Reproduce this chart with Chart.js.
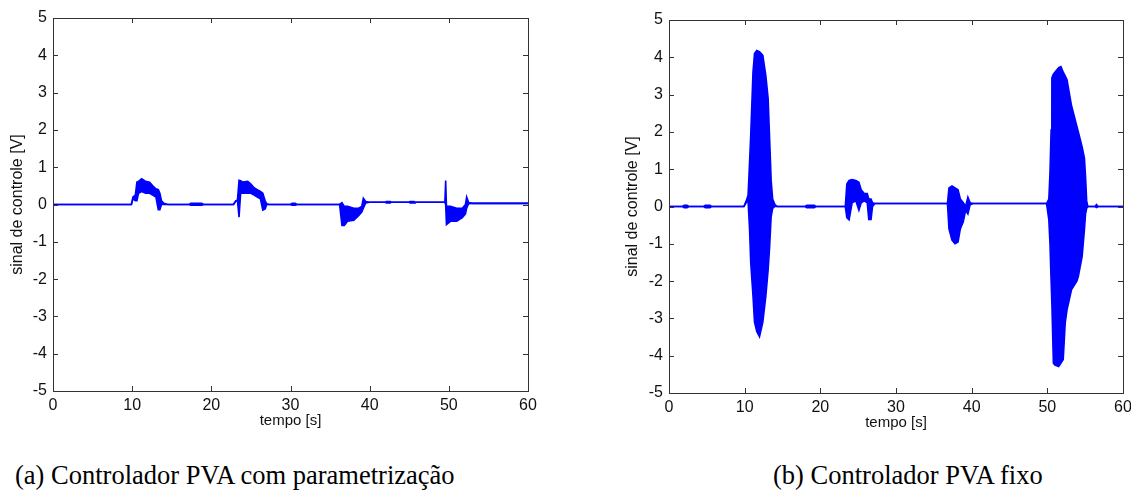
<!DOCTYPE html>
<html>
<head>
<meta charset="utf-8">
<script src="https://cdn.jsdelivr.net/npm/chart.js@4/dist/chart.umd.min.js"></script>
<style>
  html, body { margin: 0; padding: 0; background: #fff; width: 1131px; height: 491px; overflow: hidden; }
  .plot { position: absolute; top: 0; }
  .caption { position: absolute; top: 460px; font-family: "Liberation Serif", "Times New Roman", serif; font-size: 26.5px; line-height: 30px; color: #000; white-space: nowrap; }
</style>
</head>
<body>
<canvas id="plotA" class="plot" width="560" height="445" style="left:0px"></canvas>
<canvas id="plotB" class="plot" width="545" height="445" style="left:615px"></canvas>
<div class="caption" style="left:15px">(a) Controlador PVA com parametrização</div>
<div class="caption" style="left:773px">(b) Controlador PVA fixo</div>
<script>
// Control signal envelopes: time [s], upper and lower bound [V] of the oscillating signal.
// (a) PVA controller with parametrization
const timeA  = [0, 9.9, 10.1, 10.4, 10.6, 10.8, 11.2, 11.7, 12.2, 12.6, 13.0, 13.3, 13.5, 13.7, 14.0, 14.5,
                17.2, 17.4, 18.8, 19.0, 22.8, 23.1, 23.3, 23.5, 23.7, 24.0, 24.6, 25.0, 25.4, 25.8, 26.2, 26.5, 26.8, 27.0, 27.3,
                30.0, 30.2, 30.6, 30.8, 36.2, 36.5, 36.8, 37.2, 38.0, 38.6, 39.0, 39.2, 39.5, 40.0,
                42.0, 42.1, 42.6, 42.7, 45.0, 45.1, 45.6, 45.7, 49.5, 49.6, 49.7, 50.2, 51.0, 51.7, 52.1, 52.25, 52.5, 53.0, 60];
const upperA = [0, 0, 0.2, 0.25, 0.6, 0.62, 0.69, 0.62, 0.6, 0.5, 0.42, 0.4, 0.3, 0.1, 0.03, 0,
                0, 0.03, 0.03, 0, 0, 0.1, 0.12, 0.65, 0.64, 0.6, 0.62, 0.55, 0.45, 0.4, 0.35, 0.3, 0.1, 0.02, 0,
                0, 0.03, 0.03, 0, 0, 0.05, -0.05, -0.05, -0.1, -0.1, -0.05, 0.17, 0.08, 0.06,
                0.06, 0.08, 0.08, 0.06, 0.06, 0.08, 0.08, 0.06, 0.06, 0.64, -0.05, -0.05, -0.1, -0.1, 0.0, 0.2, 0.05, 0.03, 0.03];
const lowerA = [0, 0, 0.15, 0.1, 0.1, 0.3, 0.35, 0.3, 0.3, 0.25, 0.2, -0.14, -0.14, 0.0, 0, 0,
                0, -0.02, -0.02, 0, 0, 0.1, 0.1, -0.34, 0.3, 0.3, 0.3, 0.3, 0.25, 0.2, 0.15, -0.15, -0.12, 0, 0,
                0, -0.02, -0.02, 0, 0, -0.56, -0.56, -0.45, -0.42, -0.3, -0.2, -0.1, 0.04, 0.06,
                0.06, 0.04, 0.04, 0.06, 0.06, 0.04, 0.04, 0.06, 0.06, 0.0, -0.54, -0.45, -0.45, -0.35, -0.25, -0.1, 0.02, 0.03, 0.03];

// (b) fixed PVA controller
const timeB  = [0, 1.8, 2.0, 2.4, 2.6, 4.6, 4.8, 5.4, 5.6, 9.9, 10.2, 10.45, 10.65, 10.8, 11.1, 11.3, 11.6, 11.96, 12.4, 12.8, 13.1, 13.3, 13.5, 13.7, 14.0, 14.3,
                18.0, 18.2, 19.2, 19.4, 23.3, 23.5, 23.8, 24.2, 24.7, 25.1, 25.4, 25.8, 26.2, 26.4, 26.7, 26.9, 27.2,
                36.8, 37.0, 37.4, 37.8, 38.2, 38.5, 38.9, 39.2, 39.5, 39.8, 40.2,
                49.9, 50.2, 50.35, 50.5, 50.6, 50.8, 51.0, 51.5, 51.8, 52.1, 52.36, 52.6, 53.2, 53.9, 54.1, 54.6, 54.9, 55.05, 55.2, 55.35,
                56.3, 56.5, 56.7, 60];
const upperB = [0, 0, 0.03, 0.03, 0, 0, 0.03, 0.03, 0, 0, 0.15, 0.3, 1.2, 1.9, 3.6, 4.1, 4.18, 4.15, 4.05, 3.5, 2.9, 1.8, 0.7, 0.2, 0.05, 0,
                0, 0.03, 0.03, 0, 0, 0.6, 0.7, 0.72, 0.7, 0.65, 0.45, 0.35, 0.35, 0.2, 0.2, 0.1, 0.08,
                0.08, 0.5, 0.55, 0.5, 0.45, 0.2, 0.1, 0.0, 0.25, 0.1, 0.08,
                0.08, 0.2, 0.9, 2.05, 3.45, 3.55, 3.6, 3.72, 3.75, 3.6, 3.5, 3.4, 2.7, 2.15, 2.0, 1.6, 1.3, 0.8, 0.15, 0,
                0, 0.05, 0, 0];
const lowerB = [0, 0, -0.03, -0.03, 0, 0, -0.03, -0.03, 0, 0, 0.1, 0.15, -0.62, -1.5, -2.4, -3.1, -3.35, -3.49, -3.1, -2.4, -1.7, -1.07, -0.27, -0.05, 0, 0,
                0, -0.03, -0.03, 0, 0, -0.3, -0.36, 0.1, 0.15, -0.1, 0.1, 0.15, 0.1, -0.35, -0.35, 0.0, 0.08,
                0.08, -0.6, -0.9, -1.0, -0.95, -0.6, -0.4, -0.1, -0.2, 0.05, 0.08,
                0.08, -0.36, -1.0, -2.0, -2.6, -4.2, -4.25, -4.29, -4.2, -4.1, -3.13, -2.77, -2.23, -2.0, -1.87, -1.34, -0.62, -0.2, -0.05, 0,
                0, -0.03, 0, 0];

const xTicks = { min: 0, max: 60, step: 10 };
const yTicks = { min: -5, max: 5, step: 1 };

const BLUE = '#0000ff';
const AXIS = '#333333';

// Axes box with inward tick marks on all four sides
const boxFrame = {
  id: 'boxFrame',
  afterDraw(chart) {
    const { ctx, chartArea: a, scales: { x, y } } = chart;
    const len = 5;
    ctx.save();
    ctx.strokeStyle = AXIS;
    ctx.lineWidth = 1;
    ctx.strokeRect(Math.round(a.left) + 0.5, Math.round(a.top) + 0.5,
                   Math.round(a.right - a.left), Math.round(a.bottom - a.top));
    ctx.beginPath();
    x.ticks.forEach(t => {
      const px = Math.round(x.getPixelForValue(t.value)) + 0.5;
      ctx.moveTo(px, a.bottom); ctx.lineTo(px, a.bottom - len);
      ctx.moveTo(px, a.top); ctx.lineTo(px, a.top + len);
    });
    y.ticks.forEach(t => {
      const py = Math.round(y.getPixelForValue(t.value)) + 0.5;
      ctx.moveTo(a.left, py); ctx.lineTo(a.left + len, py);
      ctx.moveTo(a.right, py); ctx.lineTo(a.right - len, py);
    });
    ctx.stroke();
    ctx.restore();
  }
};

function makePlot(id, time, upper, lower, box) {
  const toPts = arr => arr.map((v, i) => ({ x: time[i], y: v }));
  return new Chart(document.getElementById(id), {
    type: 'line',
    data: {
      datasets: [
        { data: toPts(upper), borderColor: BLUE, borderWidth: 1.6, pointRadius: 0, fill: false, tension: 0 },
        { data: toPts(lower), borderColor: BLUE, borderWidth: 1.6, pointRadius: 0, fill: '-1', backgroundColor: BLUE, tension: 0 }
      ]
    },
    options: {
      responsive: false,
      animation: false,
      devicePixelRatio: 1,
      layout: { padding: { top: box.top, right: box.right, left: 0, bottom: 0 } },
      plugins: { legend: { display: false }, tooltip: { enabled: false } },
      scales: {
        x: {
          type: 'linear', min: xTicks.min, max: xTicks.max,
          grid: { display: false, drawTicks: false },
          border: { display: false },
          ticks: { stepSize: xTicks.step, padding: 5, color: '#111',
                   font: { family: 'Liberation Sans Narrow, Liberation Sans, Arial, sans-serif', size: 16 } },
          title: { display: true, text: 'tempo [s]', color: '#111',
                   font: { family: 'Liberation Sans, Arial, sans-serif', size: 15 },
                   padding: { top: 0, bottom: box.xTitlePad } },
          afterFit: s => { s.height = box.xAxisH; }
        },
        y: {
          min: yTicks.min, max: yTicks.max,
          grid: { display: false, drawTicks: false },
          border: { display: false },
          ticks: { stepSize: yTicks.step, padding: 6, color: '#111',
                   font: { family: 'Liberation Sans Narrow, Liberation Sans, Arial, sans-serif', size: 16 } },
          title: { display: true, text: 'sinal de controle [V]', color: '#111',
                   font: { family: 'Liberation Sans, Arial, sans-serif', size: 16 },
                   padding: { top: 8.4, bottom: 0 } },
          afterFit: s => { s.width = box.yAxisW; }
        }
      }
    },
    plugins: [boxFrame]
  });
}

makePlot('plotA', timeA, upperA, lowerA, { top: 18, right: 32, xAxisH: 54, yAxisW: 53, xTitlePad: 15 });
makePlot('plotB', timeB, upperB, lowerB, { top: 20, right: 37, xAxisH: 52, yAxisW: 54, xTitlePad: 13 });
</script>
</body>
</html>
